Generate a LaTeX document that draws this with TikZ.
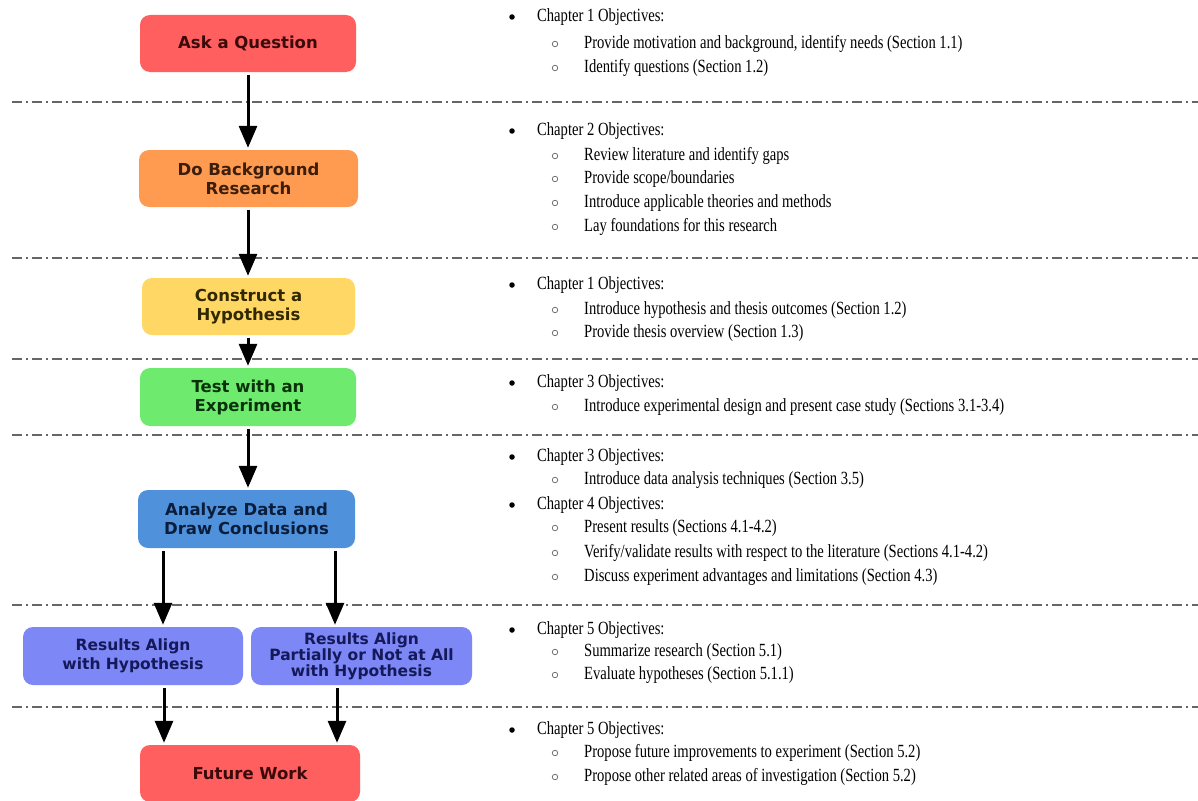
\documentclass[tikz,border=0pt]{standalone}
\usepackage{fontspec}
\setmainfont{Liberation Serif}
\newfontfamily\boxfont{DejaVu Sans}
\newfontfamily\bodyfont{Liberation Serif}[FakeStretch=0.785]
\usetikzlibrary{arrows.meta}
\definecolor{cred}{RGB}{255,95,95}
\definecolor{corange}{RGB}{255,155,80}
\definecolor{cyellow}{RGB}{255,215,100}
\definecolor{cgreen}{RGB}{110,235,110}
\definecolor{cblue}{RGB}{80,145,220}
\definecolor{cviolet}{RGB}{125,135,245}
\definecolor{tred}{RGB}{60,10,10}
\definecolor{torange}{RGB}{60,30,10}
\definecolor{tyellow}{RGB}{50,40,0}
\definecolor{tgreen}{RGB}{10,50,10}
\definecolor{tblue}{RGB}{10,30,60}
\definecolor{tviolet}{RGB}{20,25,90}
\newcommand\chapitem[3]{%
  \node[bul] (#1b) at (512,#2) {};
  \node[chapline] (#1) at (537,#2) {#3};}
\newcommand\mysubitem[3]{%
  \node[subbul] (#1b) at (555,#2) {};
  \node[chapline] (#1) at (584,#2) {#3};}
\begin{document}
\begin{tikzpicture}[x=1pt,y=-1pt,
  stepbox/.style={rounded corners=10pt, inner sep=0pt, align=center,
    font=\boxfont\bfseries\fontsize{16.5}{19}\selectfont},
  smallbox/.style={stepbox, font=\boxfont\bfseries\fontsize{15.5}{16}\selectfont},
  arr/.style={line width=3pt, -{Triangle[length=22pt,width=18pt]},
    shorten <=3pt, shorten >=2pt},
  sepline/.style={draw=black!60, line width=1.3pt,
    dash pattern=on 10pt off 4pt on 2pt off 4pt},
  chapline/.style={anchor=west, inner sep=0pt, text height=13pt, text depth=4pt,
    font=\bodyfont\fontsize{18.6}{22}\selectfont},
  bul/.style={circle, fill=black, inner sep=0pt, minimum size=5.5pt},
  subbul/.style={circle, draw=black!55, line width=0.8pt, inner sep=0pt, minimum size=5.5pt}]
\useasboundingbox[fill=white] (0,0) rectangle (1198,800);

% separators
\foreach \yy in {102,258,359,435,605,707}
  \draw[sepline] (12,\yy) -- (1198,\yy);

% boxes
\node[stepbox, fill=cred, text=tred, minimum width=216pt, minimum height=57pt]
  (ask) at (248,43.5) {Ask a Question};
\node[stepbox, fill=corange, text=torange, minimum width=219pt, minimum height=57pt]
  (bg) at (248.5,178.5) {Do Background\\Research};
\node[stepbox, fill=cyellow, text=tyellow, minimum width=213pt, minimum height=57pt]
  (hyp) at (248.5,306.5) {Construct a\\Hypothesis};
\node[stepbox, fill=cgreen, text=tgreen, minimum width=216pt, minimum height=58pt]
  (test) at (248,397) {Test with an\\Experiment};
\node[stepbox, fill=cblue, text=tblue, minimum width=217pt, minimum height=58pt]
  (ana) at (246.5,519) {Analyze Data and\\Draw Conclusions};
\node[smallbox, fill=cviolet, text=tviolet, minimum width=220pt, minimum height=58pt,
  font=\boxfont\bfseries\fontsize{15.5}{19}\selectfont]
  (r1) at (133,656) {Results Align\\with Hypothesis};
\node[smallbox, fill=cviolet, text=tviolet, minimum width=221pt, minimum height=58pt]
  (r2) at (361.5,656) {Results Align\\Partially or Not at All\\with Hypothesis};
\node[stepbox, fill=cred, text=tred, minimum width=220pt, minimum height=57pt]
  (fw) at (250,773.5) {Future Work};

% connectors
\draw[arr] (ask.south -| 248,0) -- (bg.north -| 248,0);
\draw[arr] (bg.south -| 248,0) -- (hyp.north -| 248,0);
\draw[arr] (hyp.south -| 248,0) -- (test.north -| 248,0);
\draw[arr] (test.south -| 248,0) -- (ana.north -| 248,0);
\draw[arr] (ana.south -| 163,0) -- (r1.north -| 163,0);
\draw[arr] (ana.south -| 335,0) -- (r2.north -| 335,0);
\draw[arr] (r1.south -| 164,0) -- (fw.north -| 164,0);
\draw[arr] (r2.south -| 337,0) -- (fw.north -| 337,0);

% objectives
\chapitem{c1}{17}{Chapter 1 Objectives:}
\mysubitem{s1a}{44}{Provide motivation and background, identify needs (Section 1.1)}
\mysubitem{s1b}{68}{Identify questions (Section 1.2)}

\chapitem{c2}{131}{Chapter 2 Objectives:}
\mysubitem{s2a}{156}{Review literature and identify gaps}
\mysubitem{s2b}{179}{Provide scope/boundaries}
\mysubitem{s2c}{203}{Introduce applicable theories and methods}
\mysubitem{s2d}{227}{Lay foundations for this research}

\chapitem{c3}{285}{Chapter 1 Objectives:}
\mysubitem{s3a}{310}{Introduce hypothesis and thesis outcomes (Section 1.2)}
\mysubitem{s3b}{333}{Provide thesis overview (Section 1.3)}

\chapitem{c4}{383}{Chapter 3 Objectives:}
\mysubitem{s4a}{407}{Introduce experimental design and present case study (Sections 3.1-3.4)}

\chapitem{c5}{457}{Chapter 3 Objectives:}
\mysubitem{s5a}{480}{Introduce data analysis techniques (Section 3.5)}
\chapitem{c6}{505}{Chapter 4 Objectives:}
\mysubitem{s6a}{528}{Present results (Sections 4.1-4.2)}
\mysubitem{s6b}{553}{Verify/validate results with respect to the literature (Sections 4.1-4.2)}
\mysubitem{s6c}{577}{Discuss experiment advantages and limitations (Section 4.3)}

\chapitem{c7}{630}{Chapter 5 Objectives:}
\mysubitem{s7a}{652}{Summarize research (Section 5.1)}
\mysubitem{s7b}{675}{Evaluate hypotheses (Section 5.1.1)}

\chapitem{c8}{730}{Chapter 5 Objectives:}
\mysubitem{s8a}{753}{Propose future improvements to experiment (Section 5.2)}
\mysubitem{s8b}{777}{Propose other related areas of investigation (Section 5.2)}
\end{tikzpicture}
\end{document}
